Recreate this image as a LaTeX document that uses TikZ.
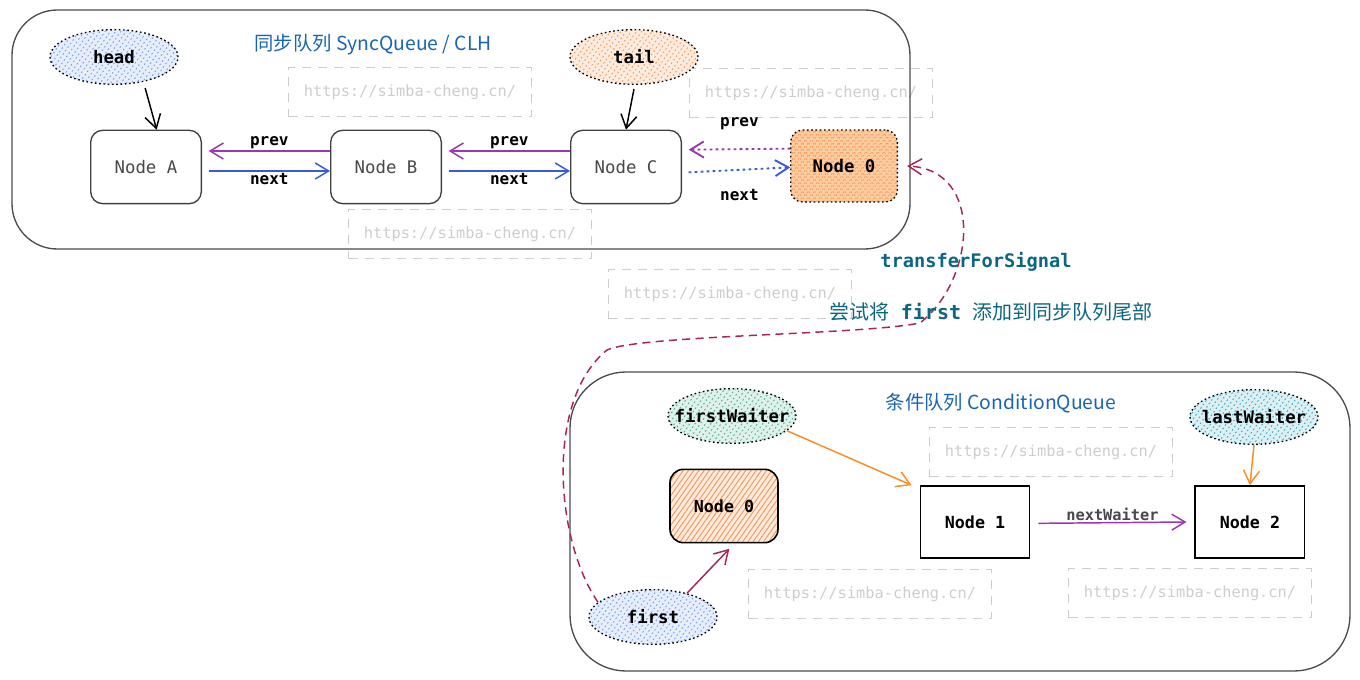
\documentclass[tikz,border=0pt]{standalone}
\usepackage{fontspec}
\setmainfont{Noto Sans CJK SC}
\newfontfamily\codefont{DejaVu Sans Mono}
\usetikzlibrary{arrows.meta,positioning,shapes.geometric,patterns.meta}
\definecolor{titleblue}{RGB}{25,100,178}
\definecolor{noteteal}{RGB}{12,102,130}
\definecolor{linkpurple}{RGB}{156,54,181}
\definecolor{linkblue}{RGB}{55,90,215}
\definecolor{linkorange}{RGB}{247,140,40}
\definecolor{linkred}{RGB}{170,35,85}
\definecolor{hatchblue}{RGB}{120,160,232}
\definecolor{hatchorange}{RGB}{250,150,85}
\definecolor{hatchgreen}{RGB}{80,175,145}
\definecolor{hatchteal}{RGB}{60,170,195}
\definecolor{zerofill}{RGB}{253,205,160}
\definecolor{markgray}{RGB}{205,205,205}
\definecolor{nodegray}{RGB}{72,72,72}

\begin{document}
\begin{tikzpicture}[x=0.75pt, y=-0.75pt, node distance=96pt,
    every node/.style={font=\codefont\fontsize{12}{14}\selectfont},
    queuebox/.style={draw=black!70, line width=1pt},
    titletext/.style={font=\rmfamily\fontsize{14.5}{17}\selectfont, text=titleblue},
    notetext/.style={font=\rmfamily\fontsize{15}{18}\selectfont, text=noteteal},
    listnode/.style={draw=black!75, line width=1pt, rounded corners=9pt, fill=white, minimum width=83pt, minimum height=55pt, text=nodegray, font=\codefont\fontsize{13}{15}\selectfont},
    plainnode/.style={draw=black, line width=1.2pt, minimum width=82pt, minimum height=54pt, font=\codefont\bfseries\fontsize{12.5}{15}\selectfont},
    pointer/.style={ellipse, draw=black, line width=1pt, dash pattern=on 1.2pt off 2pt, inner xsep=-10pt, inner ysep=0pt, minimum width=96pt, minimum height=41pt, font=\codefont\bfseries\fontsize{13}{15}\selectfont},
    hatch/.style={preaction={fill=#1!18}, pattern={Lines[angle=55,distance=3.2pt,line width=0.7pt]}, pattern color=#1},
    watermark/.style={draw=markgray, line width=1pt, dash pattern=on 7pt off 5pt, minimum width=182pt, minimum height=37pt, text=markgray, font=\codefont\fontsize{11.5}{14}\selectfont},
    link/.style={line width=1.1pt, -{Straight Barb[length=10pt,width=12pt]}},
    dotlink/.style={link, line width=1.4pt, dash pattern=on 2pt off 2.5pt},
    lbl/.style={font=\codefont\bfseries\fontsize{12}{14}\selectfont, inner sep=1pt}]
    \useasboundingbox (0,0) rectangle (1360,680);

    % watermarks
    \node[watermark] (mark1) at (410,92) {https://simba-cheng.cn/};
    \node[watermark] (mark2) at (811,93) {https://simba-cheng.cn/};
    \node[watermark] (mark3) at (470,234) {https://simba-cheng.cn/};
    \node[watermark] (mark4) at (730,294) {https://simba-cheng.cn/};
    \node[watermark] (mark5) at (1051,452) {https://simba-cheng.cn/};
    \node[watermark] (mark6) at (870,594) {https://simba-cheng.cn/};
    \node[watermark] (mark7) at (1190,593) {https://simba-cheng.cn/};

    % sync queue
    \draw[queuebox, rounded corners=34pt] (12,10) rectangle (910,249);
    \node[titletext] (synctitle) at (373,45) {同步队列 SyncQueue / CLH};
    \node[pointer, hatch=hatchblue] (head) at (114,57) {head};
    \node[pointer, hatch=hatchorange] (tail) at (634,57) {tail};
    \node[listnode] (nodeA) at (146,167) {Node A};
    \node[listnode, right=of nodeA] (nodeB) {Node B};
    \node[listnode, right=of nodeB] (nodeC) {Node C};
    \node[draw=black, line width=1pt, dash pattern=on 1.2pt off 2pt, rounded corners=9pt,
      preaction={fill=zerofill}, pattern={Hatch[angle=45,distance=3.2pt,line width=0.6pt]}, pattern color=hatchorange,
      minimum width=80pt, minimum height=54pt, font=\codefont\bfseries\fontsize{13}{15}\selectfont] (zeroTop) at (844,166) {Node 0};

    \draw[link] ([yshift=-5pt]head.-38) -- ([xshift=8pt]nodeA.north);
    \draw[link] ([yshift=-3pt]tail.south) -- (nodeC.north);
    \draw[link, draw=linkpurple] ([yshift=12pt]nodeB.west) -- ([xshift=5pt,yshift=12pt]nodeA.east) node[midway, above, lbl] {prev};
    \draw[link, draw=linkblue] ([xshift=5pt,yshift=-3pt]nodeA.east) -- ([yshift=-3pt]nodeB.west) node[midway, below, lbl] {next};
    \draw[link, draw=linkpurple] ([yshift=12pt]nodeC.west) -- ([xshift=5pt,yshift=12pt]nodeB.east) node[midway, above, lbl] {prev};
    \draw[link, draw=linkblue] ([xshift=5pt,yshift=-3pt]nodeB.east) -- ([yshift=-3pt]nodeC.west) node[midway, below, lbl] {next};
    \draw[dotlink, draw=linkpurple] ([yshift=13pt]zeroTop.west) -- ([xshift=5pt,yshift=13pt]nodeC.east) node[midway, above=13pt, lbl] {prev};
    \draw[dotlink, draw=linkblue] ([xshift=5pt,yshift=-4pt]nodeC.east) -- ([yshift=-1pt]zeroTop.west) node[midway, below=13pt, lbl] {next};

    % condition queue
    \draw[queuebox, rounded corners=42pt] (570,372) rectangle (1350,671);
    \node[titletext] (condtitle) at (1001,403) {条件队列 ConditionQueue};
    \node[pointer, hatch=hatchgreen] (firstWaiter) at (732,416) {firstWaiter};
    \node[pointer, hatch=hatchteal] (lastWaiter) at (1254,417) {lastWaiter};
    \node[pointer, hatch=hatchblue] (first) at (653,617) {first};
    \node[draw=black, line width=1.2pt, rounded corners=10pt, hatch=hatchorange,
      minimum width=81pt, minimum height=55pt, font=\codefont\bfseries\fontsize{12.5}{15}\selectfont] (zeroBottom) at (724,506) {Node 0};
    \node[plainnode] (node1) at (975,522) {Node 1};
    \node[plainnode, right=123pt of node1] (node2) {Node 2};

    \draw[link, draw=linkorange] (firstWaiter.-15) -- ([xshift=-6pt]node1.north west);
    \draw[link, draw=linkorange] (lastWaiter.south) -- (node2.north);
    \draw[link, draw=linkpurple] ([xshift=6pt,yshift=-1pt]node1.east) -- ([xshift=-6pt]node2.west)
      node[midway, above=1pt, inner sep=0pt, text=nodegray, font=\codefont\bfseries\fontsize{11.5}{14}\selectfont] {nextWaiter};
    \draw[link, draw=linkred] (first.35) -- ([xshift=4pt,yshift=-4pt]zeroBottom.south);

    % transfer back to sync queue
    \draw[link, draw=linkred, dash pattern=on 6pt off 4pt] (first.165)
      .. controls (555,540) and (545,400) .. (607,350)
      .. controls (640,335) and (860,335) .. (920,323)
      .. controls (975,280) and (985,170) .. ([xshift=7pt]zeroTop.east);
    \node[text=noteteal, font=\codefont\bfseries\fontsize{14}{17}\selectfont] (transfer) at (976,262) {transferForSignal};
    \node[notetext] (note) at (991,312) {尝试将\hspace{5pt} {\codefont\bfseries first}\hspace{5pt} 添加到同步队列尾部};
\end{tikzpicture}
\end{document}
